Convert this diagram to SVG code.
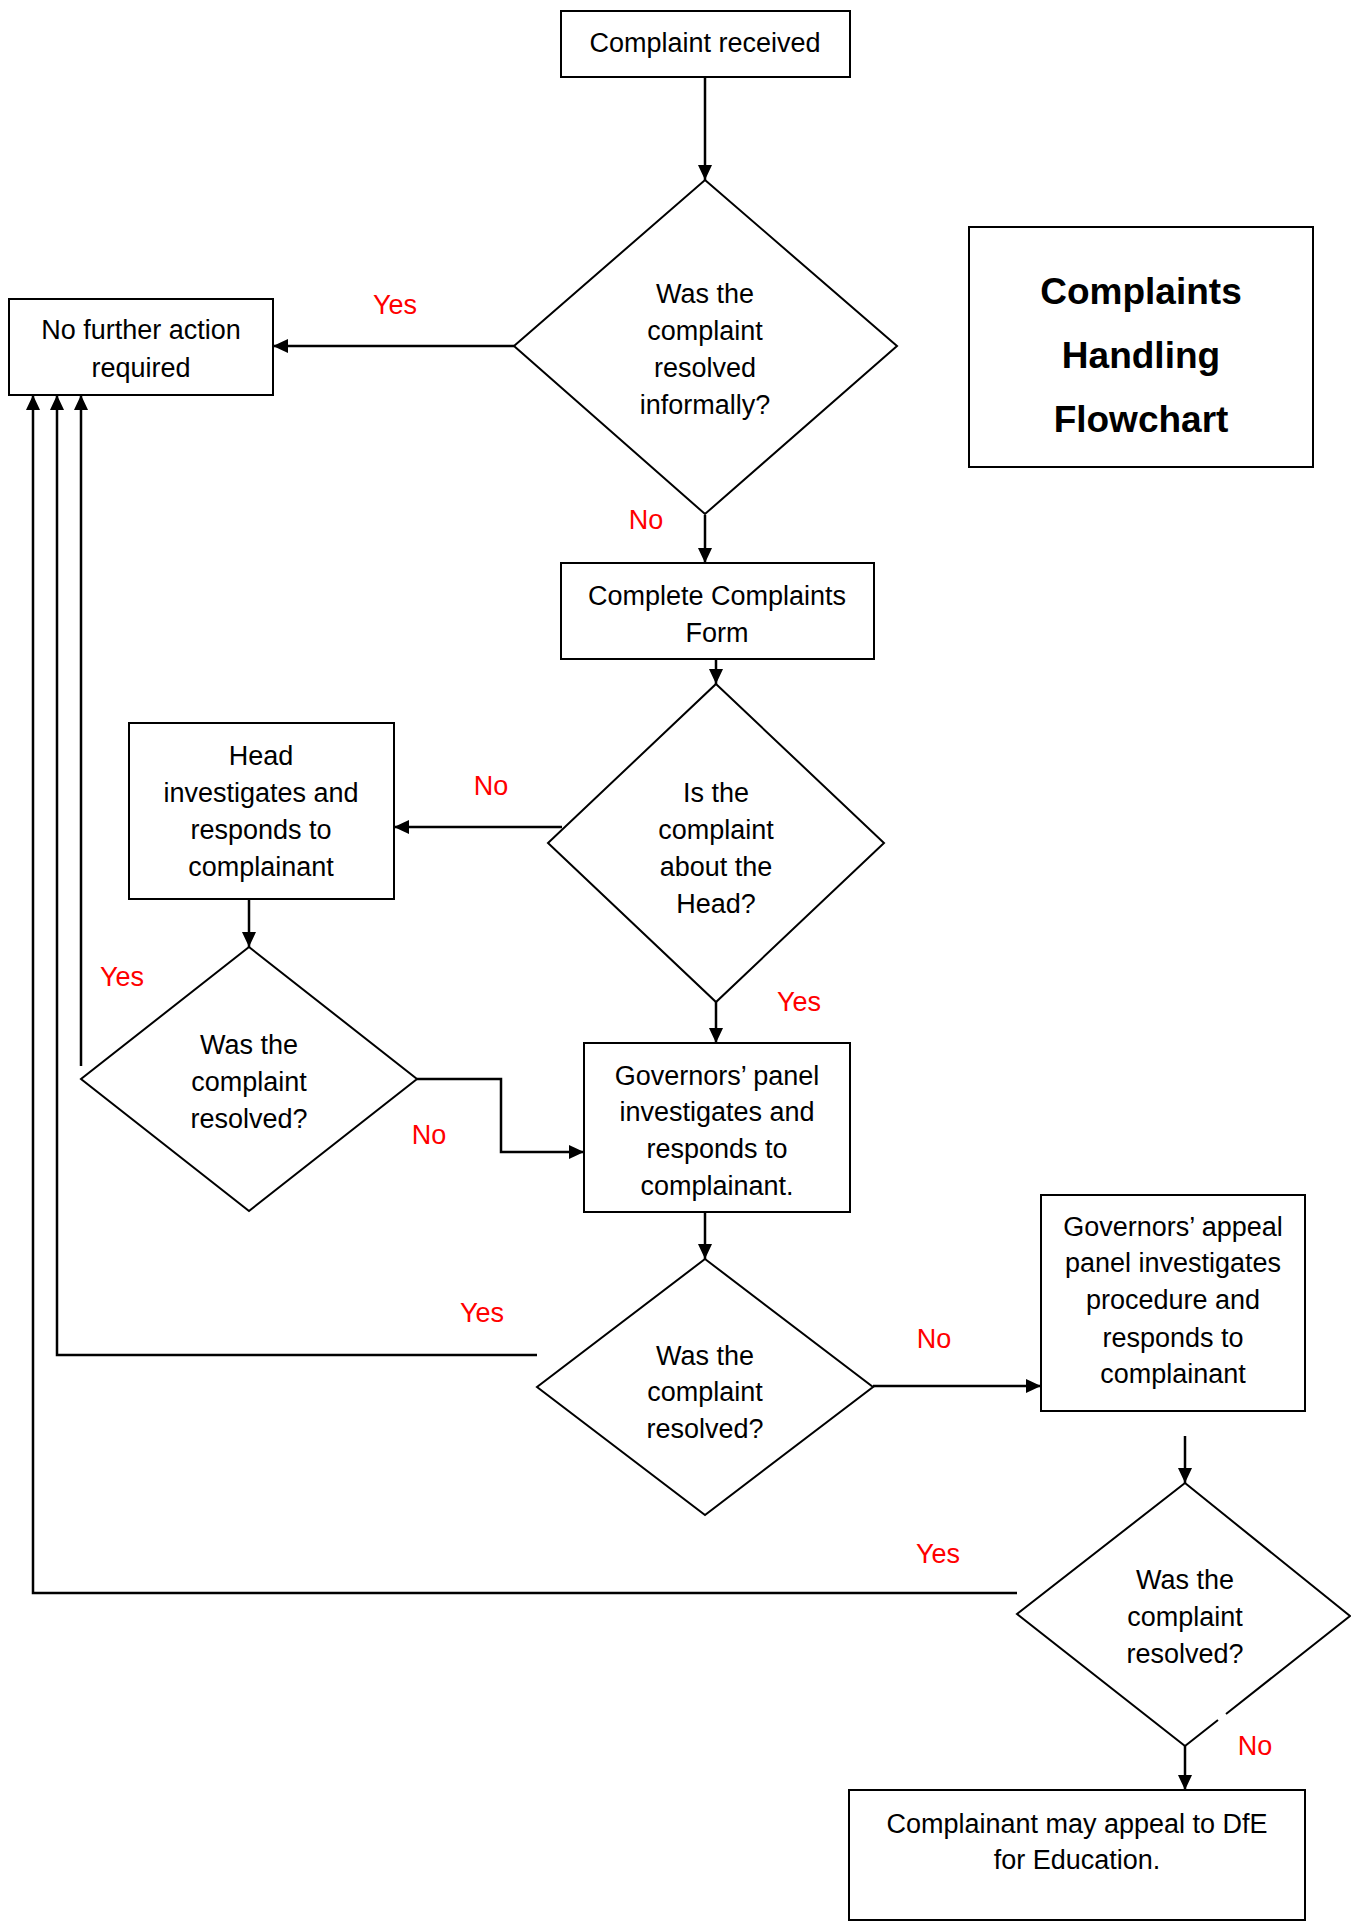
<svg xmlns="http://www.w3.org/2000/svg" width="1351" height="1922" viewBox="0 0 1351 1922">
<style>
  .box { fill: #ffffff; stroke: #000000; stroke-width: 2; }
  .dia { fill: #ffffff; stroke: #000000; stroke-width: 2; stroke-linejoin: miter; }
  .con { fill: none; stroke: #000000; stroke-width: 2.5; }
  .t { font-family: "Liberation Sans", Arial, sans-serif; font-size: 27px; fill: #000000; text-anchor: middle; }
  .lbl { font-family: "Liberation Sans", Arial, sans-serif; font-size: 27px; fill: #ff0000; text-anchor: middle; }
  .title { font-family: "Liberation Sans", Arial, sans-serif; font-size: 37px; font-weight: bold; fill: #000000; text-anchor: middle; }
</style>
<defs>
  <marker id="arr" markerUnits="userSpaceOnUse" markerWidth="16" markerHeight="14" refX="15" refY="7" orient="auto">
    <path d="M0,0 L15,7 L0,14 Z" fill="#000000"/>
  </marker>
</defs>
<rect x="0" y="0" width="1351" height="1922" fill="#ffffff"/>

<g id="connectors">
  <line class="con" x1="705" y1="77" x2="705" y2="180" marker-end="url(#arr)"/>
  <line class="con" x1="514" y1="346" x2="273" y2="346" marker-end="url(#arr)"/>
  <line class="con" x1="705" y1="515" x2="705" y2="563" marker-end="url(#arr)"/>
  <line class="con" x1="716" y1="659" x2="716" y2="684" marker-end="url(#arr)"/>
  <line class="con" x1="562" y1="827" x2="394" y2="827" marker-end="url(#arr)"/>
  <line class="con" x1="249" y1="899" x2="249" y2="947" marker-end="url(#arr)"/>
  <line class="con" x1="716" y1="1002" x2="716" y2="1043" marker-end="url(#arr)"/>
  <polyline class="con" points="417,1079 501,1079 501,1152 584,1152" marker-end="url(#arr)"/>
  <line class="con" x1="81" y1="1066" x2="81" y2="395" marker-end="url(#arr)"/>
  <line class="con" x1="705" y1="1212" x2="705" y2="1259" marker-end="url(#arr)"/>
  <polyline class="con" points="537,1355 57,1355 57,395" marker-end="url(#arr)"/>
  <line class="con" x1="873" y1="1386" x2="1041" y2="1386" marker-end="url(#arr)"/>
  <line class="con" x1="1185" y1="1436" x2="1185" y2="1483" marker-end="url(#arr)"/>
  <polyline class="con" points="1017,1593 33,1593 33,395" marker-end="url(#arr)"/>
  <line class="con" x1="1185" y1="1746" x2="1185" y2="1790" marker-end="url(#arr)"/>
</g>

<g id="labels">
  <text class="lbl" x="395" y="314">Yes</text>
  <text class="lbl" x="646" y="529">No</text>
  <text class="lbl" x="491" y="795">No</text>
  <text class="lbl" x="799" y="1011">Yes</text>
  <text class="lbl" x="122" y="986">Yes</text>
  <text class="lbl" x="429" y="1144">No</text>
  <text class="lbl" x="482" y="1322">Yes</text>
  <text class="lbl" x="934" y="1348">No</text>
  <text class="lbl" x="938" y="1563">Yes</text>
  <text class="lbl" x="1255" y="1755">No</text>
</g>

<g id="title">
  <rect class="box" x="969" y="227" width="344" height="240"/>
  <text class="title" x="1141" y="304">Complaints</text>
  <text class="title" x="1141" y="368">Handling</text>
  <text class="title" x="1141" y="432">Flowchart</text>
</g>

<g id="complaint-received">
  <rect class="box" x="561" y="11" width="289" height="66"/>
  <text class="t" x="705" y="52">Complaint received</text>
</g>

<g id="resolved-informally">
  <polygon class="dia" points="705,180 897,346 705,514 514,346"/>
  <text class="t" x="705" y="303">Was the</text>
  <text class="t" x="705" y="340">complaint</text>
  <text class="t" x="705" y="377">resolved</text>
  <text class="t" x="705" y="414">informally?</text>
</g>

<g id="no-further-action">
  <rect class="box" x="9" y="299" width="264" height="96"/>
  <text class="t" x="141" y="339">No further action</text>
  <text class="t" x="141" y="377">required</text>
</g>

<g id="complaints-form">
  <rect class="box" x="561" y="563" width="313" height="96"/>
  <text class="t" x="717" y="605">Complete Complaints</text>
  <text class="t" x="717" y="642">Form</text>
</g>

<g id="about-head">
  <polygon class="dia" points="716,684 884,843 716,1002 548,843"/>
  <text class="t" x="716" y="802">Is the</text>
  <text class="t" x="716" y="839">complaint</text>
  <text class="t" x="716" y="876">about the</text>
  <text class="t" x="716" y="913">Head?</text>
</g>

<g id="head-investigates">
  <rect class="box" x="129" y="723" width="265" height="176"/>
  <text class="t" x="261" y="765">Head</text>
  <text class="t" x="261" y="802">investigates and</text>
  <text class="t" x="261" y="839">responds to</text>
  <text class="t" x="261" y="876">complainant</text>
</g>

<g id="head-resolved">
  <polygon class="dia" points="249,947 417,1079 249,1211 81,1079"/>
  <text class="t" x="249" y="1054">Was the</text>
  <text class="t" x="249" y="1091">complaint</text>
  <text class="t" x="249" y="1128">resolved?</text>
</g>

<g id="governors-panel">
  <rect class="box" x="584" y="1043" width="266" height="169"/>
  <text class="t" x="717" y="1085">Governors’ panel</text>
  <text class="t" x="717" y="1121">investigates and</text>
  <text class="t" x="717" y="1158">responds to</text>
  <text class="t" x="717" y="1195">complainant.</text>
</g>

<g id="panel-resolved">
  <polygon class="dia" points="705,1259 873,1387 705,1515 537,1387"/>
  <text class="t" x="705" y="1365">Was the</text>
  <text class="t" x="705" y="1401">complaint</text>
  <text class="t" x="705" y="1438">resolved?</text>
</g>

<g id="appeal-panel">
  <rect class="box" x="1041" y="1195" width="264" height="216"/>
  <text class="t" x="1173" y="1236">Governors’ appeal</text>
  <text class="t" x="1173" y="1272">panel investigates</text>
  <text class="t" x="1173" y="1309">procedure and</text>
  <text class="t" x="1173" y="1347">responds to</text>
  <text class="t" x="1173" y="1383">complainant</text>
</g>

<g id="appeal-resolved">
  <path class="dia" d="M1218,1720 L1185,1746 L1017,1614 L1185,1483 L1350,1616 L1226,1714"/>
  <text class="t" x="1185" y="1589">Was the</text>
  <text class="t" x="1185" y="1626">complaint</text>
  <text class="t" x="1185" y="1663">resolved?</text>
</g>

<g id="appeal-dfe">
  <rect class="box" x="849" y="1790" width="456" height="130"/>
  <text class="t" x="1077" y="1833">Complainant may appeal to DfE</text>
  <text class="t" x="1077" y="1869">for Education.</text>
</g>
</svg>
